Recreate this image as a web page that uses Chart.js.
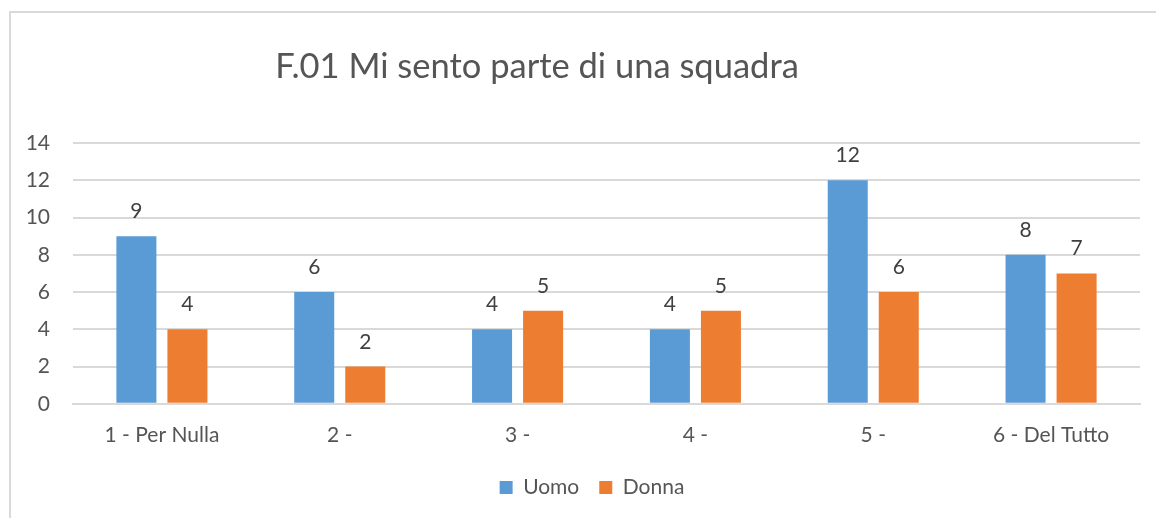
<!DOCTYPE html>
<html>
<head>
<meta charset="utf-8">
<title>F.01 Mi sento parte di una squadra</title>
<script src="https://cdn.jsdelivr.net/npm/chart.js@4.4.1/dist/chart.umd.min.js"></script>
<style>
  html, body { margin: 0; padding: 0; background: #fff; overflow: hidden; }
  #wrap { position: relative; width: 1156px; height: 518px; }
  #frame { position: absolute; left: 9px; top: 11px; width: 1300px; height: 700px;
           border-left: 2px solid #d9d9d9; border-top: 2px solid #d9d9d9; }
  canvas { position: absolute; left: 0; top: 0; }
</style>
</head>
<body>
<div id="wrap">
  <div id="frame"></div>
  <canvas id="myChart" width="1156" height="518"></canvas>
</div>
<script>
const ctx = document.getElementById('myChart');

// risposte per categoria
var labels = ['1 - Per Nulla', '2 -', '3 -', '4 -', '5 -', '6 - Del Tutto'];
var uomo = [9, 6, 4, 4, 12, 8];
var donna = [4, 2, 5, 5, 6, 7];
var yTicks = [0, 2, 4, 6, 8, 10, 12, 14];

var FONT = 'Lato';
var TEXT = '#555555';

// numeri sopra le barre
const valueLabels = {
  id: 'valueLabels',
  afterDatasetsDraw(chart) {
    const c = chart.ctx;
    c.save();
    c.font = '21px ' + FONT;
    c.fillStyle = '#404040';
    c.textAlign = 'center';
    c.textBaseline = 'alphabetic';
    chart.data.datasets.forEach((ds, i) => {
      chart.getDatasetMeta(i).data.forEach((bar, j) => {
        c.fillText(ds.data[j], bar.x, bar.y - 18);
      });
    });
    c.restore();
  }
};

// titolo
const chartTitle = {
  id: 'chartTitle',
  afterDraw(chart) {
    const c = chart.ctx;
    c.save();
    c.font = '34.5px ' + FONT;
    c.fillStyle = TEXT;
    c.textAlign = 'center';
    c.textBaseline = 'alphabetic';
    c.fillText('F.01 Mi sento parte di una squadra', 537, 78);
    c.restore();
  }
};

// legenda un po' spostata a destra
const legendShift = {
  id: 'legendShift',
  afterLayout(chart) {
    chart.legend.left += 22;
    chart.legend.right += 22;
  }
};

new Chart(ctx, {
  type: 'bar',
  data: {
    labels: labels,
    datasets: [{
      label: 'Uomo',
      data: uomo,
      backgroundColor: '#5B9BD5',
      categoryPercentage: 0.574,
      barPercentage: 0.784
    }, {
      label: 'Donna',
      data: donna,
      backgroundColor: '#ED7D31',
      categoryPercentage: 0.574,
      barPercentage: 0.784
    }]
  },
  options: {
    responsive: false,
    animation: false,
    layout: { padding: { top: 143, right: 16, bottom: 10, left: 0 } },
    plugins: {
      title: { display: false },
      tooltip: { enabled: false },
      legend: {
        position: 'bottom',
        labels: {
          boxWidth: 13,
          boxHeight: 13,
          padding: 20,
          color: TEXT,
          font: { family: FONT, size: 21 }
        }
      }
    },
    scales: {
      x: {
        grid: { display: false },
        border: { color: '#d9d9d9', width: 2 },
        afterFit(scale) { scale.height -= 2; },
        ticks: { color: TEXT, font: { family: FONT, size: 21 }, padding: 11, maxRotation: 0 }
      },
      y: {
        min: 0,
        max: 14,
        afterFit(scale) { scale.width = 73; },
        afterBuildTicks(scale) { scale.ticks = yTicks.map(v => ({ value: v })); },
        grid: { color: '#d9d9d9', lineWidth: 2, drawTicks: false },
        border: { display: false },
        ticks: { color: TEXT, font: { family: FONT, size: 21 }, padding: 23 }
      }
    }
  },
  plugins: [valueLabels, chartTitle, legendShift]
});
</script>
</body>
</html>
